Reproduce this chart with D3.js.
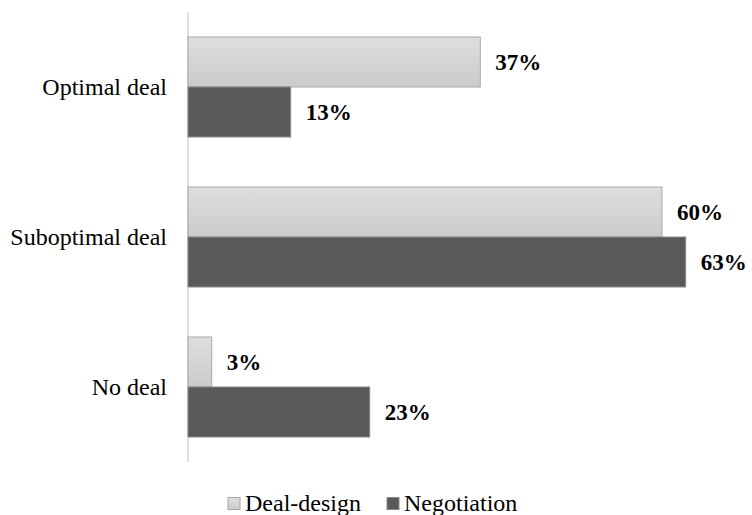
<!DOCTYPE html>
<html>
<head>
<meta charset="utf-8">
<script src="https://cdn.jsdelivr.net/npm/d3@7"></script>
<style>
  html, body { margin: 0; padding: 0; background: #fff; }
  svg { display: block; }
</style>
</head>
<body>
<svg id="chart" width="752" height="515"></svg>
<script>
// Outcome categories, top to bottom
const categories = ["Optimal deal", "Suboptimal deal", "No deal"];
// Series names, in legend order
const seriesNames = ["Deal-design", "Negotiation"];
// Share of outcomes per category (percent)
const dealDesign = [37, 60, 3];
const negotiation = [13, 63, 23];

const seriesValues = [dealDesign, negotiation];
const fills = ["url(#lightGrad)", "#595959"];
const strokes = ["#a8a8a8", "#8a8a8a"];
const fontFamily = "Liberation Serif, Tinos, Times New Roman, Times, DejaVu Serif, serif";

const svg = d3.select("#chart");

const defs = svg.append("defs");
const grad = defs.append("linearGradient")
  .attr("id", "lightGrad").attr("x1", 0).attr("y1", 0).attr("x2", 0).attr("y2", 1);
grad.append("stop").attr("offset", "0%").attr("stop-color", "#dedede");
grad.append("stop").attr("offset", "100%").attr("stop-color", "#cbcbcb");

const x = d3.scaleLinear().domain([0, 70]).range([188, 741]);
const y = d3.scaleBand().domain(categories).range([12, 462])
  .paddingInner(1 / 3).paddingOuter(1 / 6);
const ySub = d3.scaleBand().domain(seriesNames).range([0, y.bandwidth()]);

// Category axis line
svg.append("line")
  .attr("x1", x(0)).attr("x2", x(0))
  .attr("y1", 12).attr("y2", 462)
  .attr("stroke", "#d4d4d4").attr("stroke-width", 1.5);

// Bars and value labels
seriesNames.forEach((name, si) => {
  const g = svg.append("g");
  const rows = categories.map((c, i) => ({ c, v: seriesValues[si][i] }));
  g.selectAll("rect").data(rows).join("rect")
    .attr("x", x(0))
    .attr("y", d => y(d.c) + ySub(name))
    .attr("width", d => x(d.v) - x(0))
    .attr("height", ySub.bandwidth())
    .attr("fill", fills[si])
    .attr("stroke", strokes[si])
    .attr("stroke-width", 1);
  g.selectAll("text").data(rows).join("text")
    .attr("x", d => x(d.v) + 15)
    .attr("y", d => y(d.c) + ySub(name) + ySub.bandwidth() / 2)
    .attr("dy", "0.35em")
    .style("font-family", fontFamily)
    .attr("font-size", 23)
    .attr("font-weight", "bold")
    .attr("fill", "#000")
    .text(d => d.v + "%");
});

// Category labels
svg.append("g").selectAll("text").data(categories).join("text")
  .attr("x", 167)
  .attr("y", d => y(d) + y.bandwidth() / 2)
  .attr("dy", "0.35em")
  .attr("text-anchor", "end")
  .style("font-family", fontFamily)
  .attr("font-size", 24)
  .attr("fill", "#000")
  .text(d => d);

// Legend
const legendX = [228, 387];
const legend = svg.append("g");
seriesNames.forEach((name, si) => {
  legend.append("rect")
    .attr("x", legendX[si]).attr("y", 497.5)
    .attr("width", 12).attr("height", 12)
    .attr("fill", fills[si]).attr("stroke", strokes[si]);
  legend.append("text")
    .attr("x", legendX[si] + 17).attr("y", 511)
    .style("font-family", fontFamily)
    .attr("font-size", 24)
    .attr("fill", "#000")
    .text(name);
});
</script>
</body>
</html>
